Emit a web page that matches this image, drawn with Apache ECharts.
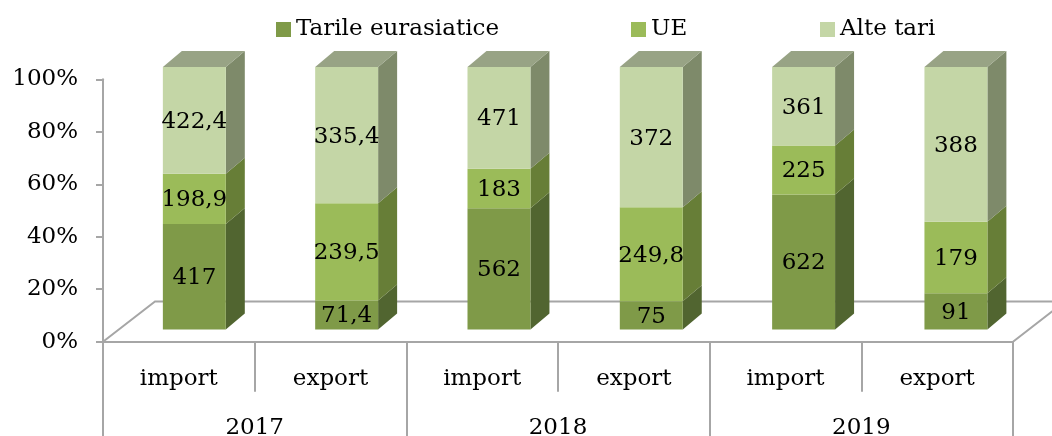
<!DOCTYPE html>
<html>
<head>
<meta charset="utf-8">
<script src="https://cdn.jsdelivr.net/npm/echarts@6/dist/echarts.min.js"></script>
<style>
  html, body { margin: 0; padding: 0; background: #ffffff; }
  #chart { width: 1052px; height: 436px; }
</style>
</head>
<body>
<div id="chart"></div>
<script>
// Trade structure by partner group, shares of the total (100% stacked)
const categories = ['import', 'export', 'import', 'export', 'import', 'export'];
const years = ['2017', '2018', '2019'];
const tarileEurasiatice = [417, 71.4, 562, 75, 622, 91];
const ue = [198.9, 239.5, 183, 249.8, 225, 179];
const alteTari = [422.4, 335.4, 471, 372, 361, 388];

const FONT = '"DejaVu Serif", "Liberation Serif", serif';
const FONT_SIZE = 23;
const AXIS_GRAY = '#A6A6A6';

// face colours of each stacked block: front, side, top
const palette = [
  { front: '#7F9A48', side: '#516530', top: '#6E8440' },
  { front: '#9BBB59', side: '#677E37', top: '#86A04C' },
  { front: '#C4D6A6', side: '#7E8A6A', top: '#98A385' }
];
const seriesDefs = [
  { name: 'Tarile eurasiatice', values: tarileEurasiatice },
  { name: 'UE', values: ue },
  { name: 'Alte tari', values: alteTari }
];

const totals = categories.map((_, i) =>
  seriesDefs.reduce((s, d) => s + d.values[i], 0));

// cumulative start/end percentages for each stacked block
const cumul = categories.map(() => 0);
const stacked = seriesDefs.map(d => d.values.map((v, i) => {
  const start = cumul[i];
  const end = start + v / totals[i] * 100;
  cumul[i] = end;
  return [i, start, end, v];
}));

const fmt = v => String(v).replace('.', ',');

// depth of the 3D blocks
const DEPTH_X = 19, DEPTH_Y = -16;

function makeBlockRenderer(k) {
  const col = palette[k];
  const isTop = k === seriesDefs.length - 1;
  return function (params, api) {
    const i = api.value(0);
    const pb = api.coord([i, api.value(1)]);
    const pt = api.coord([i, api.value(2)]);
    const band = api.size([1, 0])[0];
    const w = band * 0.415;
    const ox = 15.5 + 0.65 * i, oy = -12.2;
    const xl = pb[0] - w / 2 + ox, xr = xl + w;
    const yb = pb[1] + oy, yt = pt[1] + oy;
    const children = [
      {
        type: 'polygon',
        shape: { points: [[xr, yt], [xr + DEPTH_X, yt + DEPTH_Y], [xr + DEPTH_X, yb + DEPTH_Y], [xr, yb]] },
        style: { fill: col.side }
      },
      {
        type: 'rect',
        shape: { x: xl, y: yt, width: w, height: yb - yt },
        style: { fill: col.front }
      }
    ];
    if (isTop) {
      children.push({
        type: 'polygon',
        shape: { points: [[xl, yt], [xr, yt], [xr + DEPTH_X, yt + DEPTH_Y], [xl + DEPTH_X, yt + DEPTH_Y]] },
        style: { fill: col.top }
      });
    }
    children.push({
      type: 'text',
      style: {
        text: fmt(api.value(3)),
        x: (xl + xr) / 2,
        y: (yb + yt) / 2 + 1.5,
        align: 'center',
        verticalAlign: 'middle',
        fontFamily: FONT,
        fontSize: FONT_SIZE,
        fill: '#000000'
      }
    });
    return { type: 'group', children: children };
  };
}

// floor of the 3D plot area
function renderFloor(params) {
  const cs = params.coordSys;
  const x0 = cs.x, x1 = cs.x + cs.width, y0 = cs.y + cs.height;
  const fx = 52, fy = -40.3;
  return {
    type: 'polyline',
    shape: { points: [[x0, y0], [x0 + fx, y0 + fy], [x1 + fx, y0 + fy], [x1, y0]] },
    style: { stroke: AXIS_GRAY, lineWidth: 2, fill: null }
  };
}

const chart = echarts.init(document.getElementById('chart'), null, { renderer: 'canvas' });

const legendBase = {
  top: 18,
  padding: 0,
  icon: 'rect',
  itemWidth: 15,
  itemHeight: 15,
  itemGap: 0,
  textStyle: { fontFamily: FONT, fontSize: FONT_SIZE, color: '#000000' },
  selectedMode: false
};

const series = [{
  type: 'custom',
  name: 'floor',
  silent: true,
  z: 1,
  data: [[0, 0]],
  renderItem: renderFloor
}].concat(seriesDefs.map((d, k) => ({
  type: 'custom',
  name: d.name,
  z: 2 + k,
  itemStyle: { color: palette[k].front },
  encode: { x: 0, y: [1, 2] },
  data: stacked[k],
  renderItem: makeBlockRenderer(k)
})));

chart.setOption({
  animation: false,
  backgroundColor: '#ffffff',
  legend: [
    Object.assign({ left: 276, data: ['Tarile eurasiatice'] }, legendBase),
    Object.assign({ left: 631, data: ['UE'] }, legendBase),
    Object.assign({ left: 820, data: ['Alte tari'] }, legendBase)
  ],
  grid: {
    left: 103, right: 39, top: 79.3, bottom: 94.3,
    containLabel: false,
    outerBoundsMode: 'none'
  },
  xAxis: [
    {
      type: 'category',
      data: categories,
      position: 'bottom',
      axisLine: { show: true, lineStyle: { color: AXIS_GRAY, width: 2 } },
      axisTick: { show: true, interval: 0, length: 50, lineStyle: { color: AXIS_GRAY, width: 2 } },
      axisLabel: { interval: 0, margin: 26, fontFamily: FONT, fontSize: FONT_SIZE, color: '#000000' },
      splitLine: { show: false }
    },
    {
      type: 'category',
      data: years,
      position: 'bottom',
      axisLine: { show: false },
      axisTick: { show: true, interval: 0, length: 95, lineStyle: { color: AXIS_GRAY, width: 2 } },
      axisLabel: { interval: 0, margin: 75, fontFamily: FONT, fontSize: FONT_SIZE, color: '#000000' },
      splitLine: { show: false }
    }
  ],
  yAxis: {
    type: 'value',
    min: 0,
    max: 100,
    interval: 20,
    axisLine: { show: true, lineStyle: { color: AXIS_GRAY, width: 2 } },
    axisTick: { show: true, length: 7, lineStyle: { color: AXIS_GRAY, width: 2 } },
    axisLabel: {
      margin: 25, formatter: '{value}%', fontFamily: FONT, fontSize: FONT_SIZE, color: '#000000',
      padding: [6, 0, 0, 0]
    },
    splitLine: { show: false }
  },
  series: series
});
</script>
</body>
</html>
